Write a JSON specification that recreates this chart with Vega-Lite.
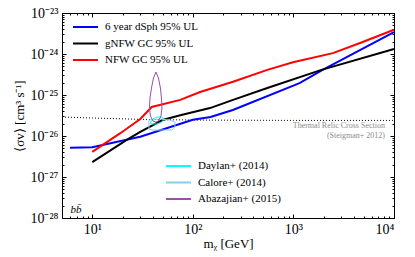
{
  "$schema": "https://vega.github.io/schema/vega-lite/v6.json",
  "width": 332,
  "height": 205,
  "autosize": {"type": "none"},
  "padding": {"left": 62, "top": 13, "right": 21, "bottom": 39},
  "background": "white",
  "config": {
    "view": {"stroke": "black", "strokeWidth": 1},
    "axis": {"grid": false, "domainColor": "black", "tickColor": "black", "labelColor": "black", "titleColor": "black", "labelFont": "Liberation Serif", "titleFont": "Liberation Serif", "titleFontWeight": "normal"},
    "legend": {"labelFont": "Liberation Serif", "labelFontSize": 11, "labelColor": "black", "padding": 0}
  },
  "datasets": {
    "lines": [
      {"series": "6 year dSph 95% UL", "m": 6, "sv": 5.2e-27},
      {"series": "6 year dSph 95% UL", "m": 10, "sv": 5.3e-27},
      {"series": "6 year dSph 95% UL", "m": 30, "sv": 9.6e-27},
      {"series": "6 year dSph 95% UL", "m": 100, "sv": 2.5e-26},
      {"series": "6 year dSph 95% UL", "m": 150, "sv": 2.9e-26},
      {"series": "6 year dSph 95% UL", "m": 250, "sv": 4.3e-26},
      {"series": "6 year dSph 95% UL", "m": 1150, "sv": 1.95e-25},
      {"series": "6 year dSph 95% UL", "m": 1950, "sv": 4.1e-25},
      {"series": "6 year dSph 95% UL", "m": 10000, "sv": 3.4e-24},
      {"series": "gNFW GC 95% UL", "m": 10, "sv": 2.3e-27},
      {"series": "gNFW GC 95% UL", "m": 22, "sv": 8e-27},
      {"series": "gNFW GC 95% UL", "m": 30, "sv": 1.26e-26},
      {"series": "gNFW GC 95% UL", "m": 50, "sv": 2.45e-26},
      {"series": "gNFW GC 95% UL", "m": 75, "sv": 3.2e-26},
      {"series": "gNFW GC 95% UL", "m": 148, "sv": 4.8e-26},
      {"series": "gNFW GC 95% UL", "m": 251, "sv": 7.6e-26},
      {"series": "gNFW GC 95% UL", "m": 550, "sv": 1.48e-25},
      {"series": "gNFW GC 95% UL", "m": 1900, "sv": 4.1e-25},
      {"series": "gNFW GC 95% UL", "m": 10000, "sv": 1.32e-24},
      {"series": "NFW GC 95% UL", "m": 10, "sv": 4.1e-27},
      {"series": "NFW GC 95% UL", "m": 19, "sv": 1.17e-26},
      {"series": "NFW GC 95% UL", "m": 30, "sv": 2.6e-26},
      {"series": "NFW GC 95% UL", "m": 39, "sv": 5.1e-26},
      {"series": "NFW GC 95% UL", "m": 75, "sv": 7.6e-26},
      {"series": "NFW GC 95% UL", "m": 118, "sv": 1.18e-25},
      {"series": "NFW GC 95% UL", "m": 251, "sv": 2.1e-25},
      {"series": "NFW GC 95% UL", "m": 550, "sv": 4.1e-25},
      {"series": "NFW GC 95% UL", "m": 990, "sv": 6.3e-25},
      {"series": "NFW GC 95% UL", "m": 2470, "sv": 1.05e-24},
      {"series": "NFW GC 95% UL", "m": 4600, "sv": 1.86e-24},
      {"series": "NFW GC 95% UL", "m": 10000, "sv": 3.9e-24}
    ],
    "thermal": [
      {"m": 5, "sv": 2.9e-26},
      {"m": 10, "sv": 2.75e-26},
      {"m": 30, "sv": 2.55e-26},
      {"m": 100, "sv": 2.45e-26},
      {"m": 1000, "sv": 2.4e-26},
      {"m": 10000, "sv": 2.4e-26}
    ],
    "contours": [
      {"series": "Daylan+ (2014)", "o": 0, "m": 37.5, "sv": 2.07e-26},
      {"series": "Daylan+ (2014)", "o": 1, "m": 40.1, "sv": 2.6e-26},
      {"series": "Daylan+ (2014)", "o": 2, "m": 43.9, "sv": 2.9e-26},
      {"series": "Daylan+ (2014)", "o": 3, "m": 49.3, "sv": 2.9e-26},
      {"series": "Daylan+ (2014)", "o": 4, "m": 51.6, "sv": 2.6e-26},
      {"series": "Daylan+ (2014)", "o": 5, "m": 49.3, "sv": 2.19e-26},
      {"series": "Daylan+ (2014)", "o": 6, "m": 43.9, "sv": 1.96e-26},
      {"series": "Daylan+ (2014)", "o": 7, "m": 39.2, "sv": 1.96e-26},
      {"series": "Daylan+ (2014)", "o": 8, "m": 37.5, "sv": 2.07e-26},
      {"series": "Calore+ (2014)", "o": 0, "m": 36.6, "sv": 2.45e-26},
      {"series": "Calore+ (2014)", "o": 1, "m": 36.6, "sv": 1.48e-26},
      {"series": "Calore+ (2014)", "o": 2, "m": 39.2, "sv": 1.4e-26},
      {"series": "Calore+ (2014)", "o": 3, "m": 62, "sv": 1.4e-26},
      {"series": "Calore+ (2014)", "o": 4, "m": 66.4, "sv": 1.66e-26},
      {"series": "Calore+ (2014)", "o": 5, "m": 66.4, "sv": 2.19e-26},
      {"series": "Calore+ (2014)", "o": 6, "m": 59.2, "sv": 2.45e-26},
      {"series": "Calore+ (2014)", "o": 7, "m": 47.1, "sv": 2.6e-26},
      {"series": "Calore+ (2014)", "o": 8, "m": 36.6, "sv": 2.45e-26},
      {"series": "Abazajian+ (2015)", "o": 0, "m": 42.96, "sv": 3.64e-25},
      {"series": "Abazajian+ (2015)", "o": 1, "m": 45.5, "sv": 2.6e-25},
      {"series": "Abazajian+ (2015)", "o": 2, "m": 47.6, "sv": 1.48e-25},
      {"series": "Abazajian+ (2015)", "o": 3, "m": 48.7, "sv": 8.45e-26},
      {"series": "Abazajian+ (2015)", "o": 4, "m": 49.3, "sv": 4.82e-26},
      {"series": "Abazajian+ (2015)", "o": 5, "m": 48.2, "sv": 3.08e-26},
      {"series": "Abazajian+ (2015)", "o": 6, "m": 45.5, "sv": 2.32e-26},
      {"series": "Abazajian+ (2015)", "o": 7, "m": 42.96, "sv": 2.19e-26},
      {"series": "Abazajian+ (2015)", "o": 8, "m": 40.1, "sv": 2.32e-26},
      {"series": "Abazajian+ (2015)", "o": 9, "m": 37.9, "sv": 3.08e-26},
      {"series": "Abazajian+ (2015)", "o": 10, "m": 37.0, "sv": 4.82e-26},
      {"series": "Abazajian+ (2015)", "o": 11, "m": 37.5, "sv": 8.45e-26},
      {"series": "Abazajian+ (2015)", "o": 12, "m": 38.8, "sv": 1.48e-25},
      {"series": "Abazajian+ (2015)", "o": 13, "m": 40.6, "sv": 2.6e-25},
      {"series": "Abazajian+ (2015)", "o": 14, "m": 42.96, "sv": 3.64e-25}
    ],
    "notes": [
      {"m": 8130, "sv": 1.72e-26, "label": "Thermal Relic Cross Section"},
      {"m": 8130, "sv": 1.0e-26, "label": "(Steigman+ 2012)"}
    ],
    "channel": [
      {"m": 6.9, "sv": 1.58e-28, "label": "bb̄"}
    ]
  },
  "resolve": {"scale": {"color": "independent"}, "axis": {"x": "independent", "y": "independent"}},
  "layer": [
    {
      "data": {"name": "thermal"},
      "mark": {"type": "line", "color": "black", "strokeWidth": 1, "strokeDash": [1, 2]},
      "encoding": {
        "x": {"field": "m", "type": "quantitative", "scale": {"type": "log", "domain": [5, 10000], "nice": false},
          "axis": {"orient": "bottom", "values": [10, 100, 1000, 10000], "tickSize": -4, "labelPadding": 8, "labelFontSize": 14,
            "labelExpr": "datum.value==10?'10¹':datum.value==100?'10²':datum.value==1000?'10³':'10⁴'",
            "title": "mᵪ [GeV]", "titleFontSize": 13, "titlePadding": 1}},
        "y": {"field": "sv", "type": "quantitative", "scale": {"type": "log", "domain": [1e-28, 1e-23], "nice": false},
          "axis": {"orient": "left", "values": [1e-28, 1e-27, 1e-26, 1e-25, 1e-24, 1e-23], "tickSize": -4, "labelPadding": 8, "labelFontSize": 14,
            "labelExpr": "datum.value<2e-28?'10⁻²⁸':datum.value<2e-27?'10⁻²⁷':datum.value<2e-26?'10⁻²⁶':datum.value<2e-25?'10⁻²⁵':datum.value<2e-24?'10⁻²⁴':'10⁻²³'",
            "title": "⟨σv⟩ [cm³ s⁻¹]", "titleFontSize": 13, "titlePadding": 3}}
      }
    },
    {
      "data": {"name": "lines"},
      "mark": {"type": "line", "strokeWidth": 2},
      "encoding": {
        "x": {"field": "m", "type": "quantitative", "scale": {"type": "log", "domain": [5, 10000], "nice": false},
          "axis": {"orient": "bottom", "values": [5,6,7,8,9,20,30,40,50,60,70,80,90,200,300,400,500,600,700,800,900,2000,3000,4000,5000,6000,7000,8000,9000], "tickSize": -2, "labels": false, "domain": false, "title": null}},
        "y": {"field": "sv", "type": "quantitative", "scale": {"type": "log", "domain": [1e-28, 1e-23], "nice": false},
          "axis": {"orient": "left", "values": [2e-28,3e-28,4e-28,5e-28,6e-28,7e-28,8e-28,9e-28,2e-27,3e-27,4e-27,5e-27,6e-27,7e-27,8e-27,9e-27,2e-26,3e-26,4e-26,5e-26,6e-26,7e-26,8e-26,9e-26,2e-25,3e-25,4e-25,5e-25,6e-25,7e-25,8e-25,9e-25,2e-24,3e-24,4e-24,5e-24,6e-24,7e-24,8e-24,9e-24], "tickSize": -2, "labels": false, "domain": false, "title": null}},
        "color": {"field": "series", "type": "nominal",
          "scale": {"domain": ["6 year dSph 95% UL", "gNFW GC 95% UL", "NFW GC 95% UL"], "range": ["#0000ff", "#000000", "#ff0000"]},
          "legend": {"orient": "none", "legendX": 10, "legendY": 8, "title": null, "symbolType": "stroke", "symbolSize": 625, "symbolStrokeWidth": 2, "clipHeight": 12, "rowPadding": 4.5, "labelOffset": 6}}
      }
    },
    {
      "data": {"name": "contours"},
      "mark": {"type": "line", "strokeWidth": 1},
      "encoding": {
        "x": {"field": "m", "type": "quantitative", "scale": {"type": "log", "domain": [5, 10000], "nice": false},
          "axis": {"orient": "top", "values": [10, 100, 1000, 10000], "tickSize": -4, "labels": false, "title": null}},
        "y": {"field": "sv", "type": "quantitative", "scale": {"type": "log", "domain": [1e-28, 1e-23], "nice": false},
          "axis": {"orient": "right", "values": [1e-28, 1e-27, 1e-26, 1e-25, 1e-24, 1e-23], "tickSize": -4, "labels": false, "title": null}},
        "order": {"field": "o", "type": "quantitative"},
        "color": {"field": "series", "type": "nominal",
          "scale": {"domain": ["Daylan+ (2014)", "Calore+ (2014)", "Abazajian+ (2015)"], "range": ["#00ffff", "#87ceeb", "#9a4fa8"]},
          "legend": {"orient": "none", "legendX": 103, "legendY": 147, "title": null, "symbolType": "stroke", "symbolSize": 625, "symbolStrokeWidth": 2, "clipHeight": 12, "rowPadding": 4.5, "labelOffset": 6}}
      }
    },
    {
      "data": {"name": "notes"},
      "mark": {"type": "text", "align": "right", "baseline": "middle", "font": "Liberation Serif", "fontSize": 8, "color": "#8c8c8c"},
      "encoding": {
        "x": {"field": "m", "type": "quantitative", "scale": {"type": "log", "domain": [5, 10000], "nice": false},
          "axis": {"orient": "top", "values": [5,6,7,8,9,20,30,40,50,60,70,80,90,200,300,400,500,600,700,800,900,2000,3000,4000,5000,6000,7000,8000,9000], "tickSize": -2, "labels": false, "domain": false, "title": null}},
        "y": {"field": "sv", "type": "quantitative", "scale": {"type": "log", "domain": [1e-28, 1e-23], "nice": false},
          "axis": {"orient": "right", "values": [2e-28,3e-28,4e-28,5e-28,6e-28,7e-28,8e-28,9e-28,2e-27,3e-27,4e-27,5e-27,6e-27,7e-27,8e-27,9e-27,2e-26,3e-26,4e-26,5e-26,6e-26,7e-26,8e-26,9e-26,2e-25,3e-25,4e-25,5e-25,6e-25,7e-25,8e-25,9e-25,2e-24,3e-24,4e-24,5e-24,6e-24,7e-24,8e-24,9e-24], "tickSize": -2, "labels": false, "domain": false, "title": null}},
        "text": {"field": "label", "type": "nominal"}
      }
    },
    {
      "data": {"name": "channel"},
      "mark": {"type": "text", "align": "center", "baseline": "middle", "font": "Liberation Serif", "fontStyle": "italic", "fontSize": 11, "color": "black"},
      "encoding": {
        "x": {"field": "m", "type": "quantitative", "scale": {"type": "log", "domain": [5, 10000], "nice": false}, "axis": null},
        "y": {"field": "sv", "type": "quantitative", "scale": {"type": "log", "domain": [1e-28, 1e-23], "nice": false}, "axis": null},
        "text": {"field": "label", "type": "nominal"}
      }
    }
  ]
}
